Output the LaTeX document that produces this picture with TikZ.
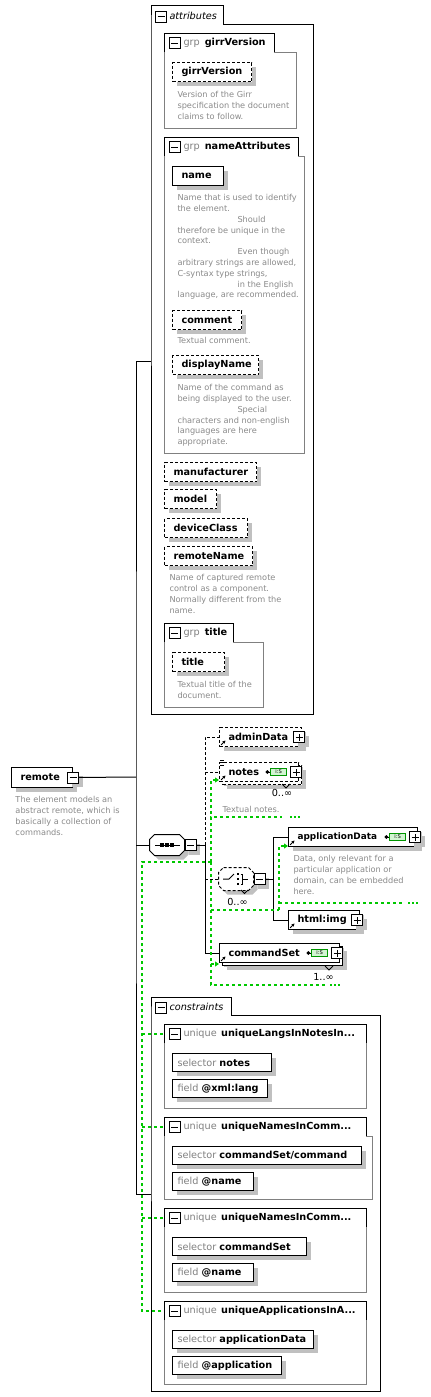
\documentclass[tikz,border=0pt]{standalone}
\usepackage{fontspec}
\setmainfont{DejaVu Sans}
\usetikzlibrary{arrows.meta,shadows,positioning}

\definecolor{docgray}{RGB}{138,138,138}
\definecolor{grpgray}{RGB}{128,128,128}
\definecolor{shadegray}{RGB}{192,192,192}
\definecolor{keygreen}{RGB}{0,200,0}
\definecolor{typegreen}{RGB}{0,150,0}
\definecolor{typefill}{RGB}{210,245,210}
\newcommand\docfont{\fontsize{4.1}{5.4}\selectfont}
\newcommand\labfont{\fontsize{4.85}{5.8}\selectfont}
\newcommand\trail{...}

\tikzset{
  shad/.style={drop shadow={shadow xshift=2pt, shadow yshift=-2pt, opacity=1, fill=shadegray, draw=none}},
  elem/.style={draw, fill=white, anchor=north west, minimum height=9.5pt, inner xsep=4.5pt, inner ysep=0pt,
    text width=#1*.5pt-9pt, align=left, font=\labfont\bfseries, shad},
  opt/.style={dash pattern=on 1.5pt off 1pt},
  multi/.style={drop shadow={shadow xshift=3.5pt, shadow yshift=-3.5pt, opacity=1, fill=shadegray, draw=none},
    copy shadow={shadow xshift=1.5pt, shadow yshift=-1.5pt, draw, fill=white}},
  ref/.style={path picture={\draw[-{Stealth[length=1.6pt,width=1.6pt]}, line width=.4pt, solid]
    ([shift={(.8pt,.8pt)}]path picture bounding box.south west) -- ++(2.2pt,2.2pt);}},
  kfield/.style={draw, fill=white, anchor=north west, minimum height=9pt, inner xsep=2.5pt, inner ysep=0pt,
    text width=#1*.5pt-5pt, align=left, font=\labfont, shad},
  doc/.style={anchor=north west, inner sep=0pt, align=left, font=\docfont, text=docgray},
  tabtext/.style={anchor=west, inner sep=0pt, font=\labfont},
  pm/.style={draw, fill=white, minimum size=5.5pt, inner sep=0pt, line width=.5pt, solid},
  minus/.style={pm, path picture={\draw[line width=.5pt] ([xshift=1pt]path picture bounding box.west) -- ([xshift=-1pt]path picture bounding box.east);}},
  plus/.style={pm, path picture={\draw[line width=.5pt] ([xshift=1pt]path picture bounding box.west) -- ([xshift=-1pt]path picture bounding box.east)
    ([yshift=1pt]path picture bounding box.south) -- ([yshift=-1pt]path picture bounding box.north);}},
  compositor/.style={rectangle, minimum width=17pt, minimum height=10pt, inner sep=0pt},
  typebox/.style={draw=typegreen, fill=typefill, minimum width=8pt, minimum height=3.5pt, inner sep=0pt,
    font=\fontsize{2.6}{3}\selectfont, text=black, line width=.4pt},
  keyline/.style={keygreen, line width=.6pt, dash pattern=on 1.5pt off 1.5pt},
  keytip/.style={-{Triangle[length=2pt,width=2.5pt]}},
  keydots/.style={keygreen, line width=1pt, dash pattern=on 1pt off 1pt},
}

\begin{document}
\begin{tikzpicture}[x=.5pt, y=-.5pt, line width=.5pt]
\path[fill=white, use as bounding box] (0,0) rectangle (431,1397);

% attributes
\draw (151,24) -- (151,714) -- (313,714) -- (313,24) -- (223,24) -- (223,5) -- (151,5) -- cycle;
\node[minus] (attrM) at (161,16.5) {};
\node[tabtext, font=\labfont\itshape] (attrT) at (169,15.5) {attributes};
% attribute groups
\foreach \gn/\ty/\tr/\rx/\by in {girrVersion/33/274/296/128, nameAttributes/137/298/304/453, title/623/233/263/707} {
  \draw[grpgray] (164,\ty+19) -- (164,\by) -- (\rx,\by) -- (\rx,\ty+19) -- (\tr,\ty+19);
  \draw (164,\ty+19) -- (164,\ty) -- (\tr,\ty) -- (\tr,\ty+19);
  \node[minus] (m-\gn) at (174.5,\ty+10) {};
  \node[tabtext] (t-\gn) at (183,\ty+9.5) {\textcolor{grpgray}{grp}\hspace{2.5pt}\textbf{\gn}};
}
\node[elem=79, opt] (girrVersion) at (172,62) {girrVersion};
\node[doc] (girrVersionDoc) at (177,91) {Version of the Girr\\specification the document\\claims to follow.};
\node[elem=51] (name) at (172,166) {name};
\node[doc] (nameDoc) at (177,194) {Name that is used to identify\\the element.\\\hspace*{30pt}Should\\therefore be unique in the\\context.\\\hspace*{30pt}Even though\\arbitrary strings are allowed,\\C-syntax type strings,\\\hspace*{30pt}in the English\\language, are recommended.};
\node[elem=69, opt] (comment) at (172,310) {comment};
\node[doc] (commentDoc) at (177,337) {Textual comment.};
\node[elem=86, opt] (displayName) at (172,355) {displayName};
\node[doc] (displayNameDoc) at (177,384) {Name of the command as\\being displayed to the user.\\\hspace*{30pt}Special\\characters and non-english\\languages are here\\appropriate.};
\foreach \nm/\ty/\bw in {manufacturer/462/92, model/489/52, deviceClass/518/83, remoteName/546/88}
  \node[elem=\bw, opt] (\nm) at (164,\ty) {\nm};
\node[doc] (remoteNameDoc) at (169,574) {Name of captured remote\\control as a component.\\Normally different from the\\name.};
\node[elem=52, opt] (title) at (172,652) {title};
\node[doc] (titleDoc) at (177,681) {Textual title of the\\document.};

% root element
\node[elem=61, minimum height=10pt] (remote) at (11,767) {remote};
\node[minus, shad] (remoteM) at (remote.east) {};
\node[doc] (remoteDoc) at (15,796) {The element models an\\abstract remote, which is\\basically a collection of\\commands.};
\coordinate (attrIn) at (151,361);
\coordinate (consIn) at (151,1194);
\coordinate (bus) at (136,777);
\draw (remoteM) -- (bus);
\draw (attrIn) -| (bus) |- (consIn);

% compositors (octagons)
\node[compositor] (seq) at (167,845) {};
\node[compositor, minimum height=11pt] (choice) at (236,879) {};
\foreach \cp/\ls in {seq/solid, choice/opt}
  \draw[\ls, fill=white, shad] ([xshift=2.5pt]\cp.north west) -- ([xshift=-2.5pt]\cp.north east)
    -- ([yshift=-2.5pt]\cp.north east) -- ([yshift=2.5pt]\cp.south east)
    -- ([xshift=-2.5pt]\cp.south east) -- ([xshift=2.5pt]\cp.south west)
    -- ([yshift=2.5pt]\cp.south west) -- ([yshift=-2.5pt]\cp.north west) -- cycle;

% sequence
\node[minus, shad, anchor=west] (seqM) at (seq.east) {};
\draw (bus |- seq) -- (seq);
\draw ([xshift=-6pt]seq.center) -- ([xshift=6.5pt]seq.center);
\foreach \dx in {-2.5,0,2.5}
  \fill ([xshift=\dx pt]seq.center) +(-.8pt,-.8pt) rectangle +(.8pt,.8pt);
\coordinate (seqBus) at (205,845);

\node[elem=82, opt, ref] (adminData) at (219,727) {adminData};
\node[plus, shad] (adminDataP) at ([xshift=-1.5pt]adminData.east) {};
\node[elem=79, opt, ref, multi] (notes) at (219,762) {notes};
\node[plus] (notesP) at ([xshift=-1.5pt]notes.east) {};
\node[typebox, left=1.5pt of notesP] (notesT) {i:S};
\foreach \dy in {.9,-.3,-1.5}
  \draw[line width=.4pt] ([shift={(.7pt,\dy pt)}]notes.north west) -- ++(2pt,0);
\draw (282,784) -- (286,788) -- (290,784);
\node[font=\labfont, inner sep=0pt] (notesOcc) at (282,792.5) {0..∞};
\node[doc] (notesDoc) at (222,806) {Textual notes.};

% choice
\node[minus, shad, anchor=west] (choiceM) at (choice.east) {};
\begin{scope}[shift={(choice.center)}]
  \draw (-13,0) -- (-7,0) -- (-2,-5);
  \foreach \dy in {-5,0,5} \fill (2,\dy) +(-1.2,-1.2) rectangle +(1.2,1.2);
  \draw (4.5,-5) -- (6,-5) -- (6,5) -- (4.5,5) (6,0) -- (12,0);
\end{scope}
\draw (241,890) -- (244.5,893.5) -- (248,890);
\node[font=\labfont, inner sep=0pt] (choiceOcc) at (237.5,901.5) {0..∞};
\coordinate (choiceBus) at (273,879);
\draw (choiceM) -- (choiceBus);

\node[elem=129, ref, font=\fontsize{4.45}{5.3}\selectfont\bfseries] (applicationData) at (288,827) {applicationData};
\node[plus, shad] (applicationDataP) at ([xshift=-1.5pt]applicationData.east) {};
\node[typebox, left=1.5pt of applicationDataP] (applicationDataT) {i:S};
\node[doc] (applicationDataDoc) at (293,855) {Data, only relevant for a\\particular application or\\domain, can be embedded\\here.};
\node[elem=71, ref] (htmlImg) at (288,910) {html:img};
\node[plus, shad] (htmlImgP) at ([xshift=-1.5pt]htmlImg.east) {};
\draw (choiceBus) |- (applicationData);
\draw (choiceBus) |- (htmlImg);

\node[elem=120, ref, multi] (commandSet) at (219,943) {commandSet};
\node[plus] (commandSetP) at ([xshift=-1.5pt]commandSet.east) {};
\node[typebox, left=1.5pt of commandSetP] (commandSetT) {i:S};
\draw (325,966) -- (329,970) -- (333,966);
\node[font=\labfont, inner sep=0pt] (commandSetOcc) at (323.5,977) {1..∞};

% type diamonds
\foreach \tb in {notesT, applicationDataT, commandSetT} {
  \draw (\tb.west) -- ++(-1.2pt,0);
  \fill ([xshift=-1.4pt]\tb.west) +(-1pt,0) -- +(0,1pt) -- +(1pt,0) -- +(0,-1pt) -- cycle;
}

% sequence branches
\draw (seqM) -- (seqBus);
\draw[opt] (seqBus) -- (seqBus |- adminData) -- (adminData);
\draw[opt] (seqBus |- notes) -- (notes);
\draw[opt] (seqBus |- choice) -- (choice);
\draw (seqBus) |- (commandSet);

% constraints
\draw (151,1015) -- (151,1391) -- (380,1391) -- (380,1015) -- (231,1015) -- (231,997) -- (151,997) -- cycle;
\node[minus] (consM) at (161,1007.5) {};
\node[tabtext, font=\labfont\itshape] (consT) at (169,1006.5) {constraints};
\foreach \ui/\ty/\rx/\by/\un/\sel/\sw/\fld/\fw in {
    1/1024/366/1108/uniqueLangsInNotesIn\trail/notes/99/@xml:lang/95,
    2/1117/372/1199/uniqueNamesInComm\trail/{commandSet/command}/189/@name/81,
    3/1208/366/1292/uniqueNamesInComm\trail/commandSet/134/@name/81,
    4/1301/366/1384/uniqueApplicationsInA\trail/applicationData/141/@application/109} {
  \draw[grpgray] (164,\ty+19) -- (164,\by) -- (\rx,\by) -- (\rx,\ty+19) -- (366,\ty+19);
  \draw (164,\ty+19) -- (164,\ty) -- (366,\ty) -- (366,\ty+19);
  \node[minus] (uM\ui) at (174.5,\ty+10) {};
  \node[tabtext] (uT\ui) at (183,\ty+9.5) {\textcolor{grpgray}{unique}\hspace{2.2pt}\textbf{\un}};
  \node[kfield=\sw] (sel\ui) at (172,\ty+29) {\textcolor{grpgray}{selector} \textbf{\sel}};
  \node[kfield=\fw] (fld\ui) at (172,\ty+55) {\textcolor{grpgray}{field} \textbf{\fld}};
}

% key references
\coordinate (keyBus) at (142,862);
\coordinate (keyN) at (211,862);
\coordinate (keyA) at (279,910);
\draw[keyline] (keyN) -- (keyBus) |- ([xshift=-2.5pt]uM4.west);
\foreach \ui in {1,2,3}
  \draw[keyline] (keyBus |- uM\ui) -- ([xshift=-2.5pt]uM\ui.west);
\draw[keyline, keytip] (keyN) |- ([yshift=1pt]notes.south west);
\draw[keyline] (keyN) |- (282,817);
\draw[keydots] (290,817) -- (300,817);
\draw[keyline] (keyN) |- (keyA);
\draw[keyline, keytip] (keyA) |- ([yshift=.5pt]applicationData.south west);
\draw[keyline] (279,903) -- (403,903);
\draw[keydots] (408,903) -- (418,903);
\draw[keyline, keytip] (keyN) |- ([yshift=-.5pt]commandSet.south west);
\draw[keyline] (keyN) |- (325,985);
\draw[keydots] (330,985) -- (340,985);
\end{tikzpicture}
\end{document}
